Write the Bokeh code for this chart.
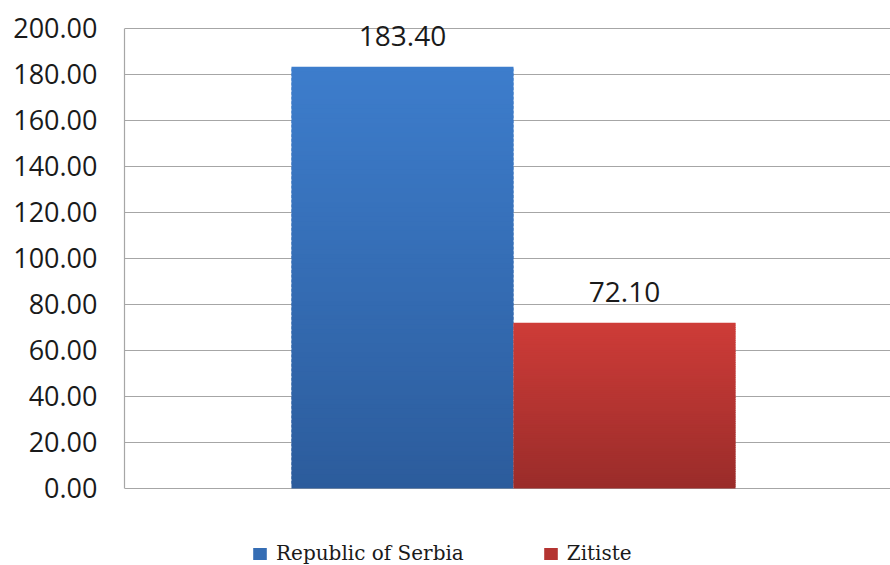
from bokeh.plotting import figure
from bokeh.models import Range1d, FixedTicker, NumeralTickFormatter, Legend, LegendItem, ColumnDataSource
from bokeh.core.properties import value
from bokeh.embed import file_html
from bokeh.resources import INLINE

# ---- data ----
categories = ["Republic of Serbia", "Zitiste"]
values = [183.40, 72.10]
y_ticks = [0, 20, 40, 60, 80, 100, 120, 140, 160, 180, 200]

# ---- style ----
top_colors = ["#3D7DCC", "#CE3C38"]
bottom_colors = ["#2C5C9C", "#9A2C2A"]
grid_color = "#A6A6A6"
text_color = "#1A1A1A"
N_STEPS = 90


def hex_to_rgb(h):
    h = h.lstrip("#")
    return tuple(int(h[i:i + 2], 16) for i in (0, 2, 4))


def mix(c1, c2, t):
    a, b = hex_to_rgb(c1), hex_to_rgb(c2)
    return "#%02x%02x%02x" % tuple(int(round(a[j] + (b[j] - a[j]) * t)) for j in range(3))


xs = list(range(len(categories)))

p = figure(
    width=890, height=565,
    x_range=Range1d(-1.252, 2.198), y_range=Range1d(-33.48, 212.17),
    output_backend="svg", toolbar_location=None,
    min_border_left=124, min_border_top=0, min_border_bottom=0, min_border_right=0,
)
p.outline_line_color = None
p.background_fill_color = "white"
p.border_fill_color = "white"

# gradient bars built as stacked slices of each bar's own value
renderers = []
for i, v in enumerate(values):
    seg = {"x": [], "bottom": [], "top": [], "color": []}
    for k in range(N_STEPS):
        seg["x"].append(xs[i])
        seg["bottom"].append(v * k / N_STEPS)
        seg["top"].append(min(v, v * (k + 1.6) / N_STEPS))
        seg["color"].append(mix(bottom_colors[i], top_colors[i], (k + 0.5) / N_STEPS))
    r = p.vbar(x="x", bottom="bottom", top="top", width=1.0, source=ColumnDataSource(seg),
               fill_color="color", line_color=None)
    renderers.append(r)

p.text(x=xs, y=values, text=[f"{v:.2f}" for v in values],
       text_align="center", text_baseline="alphabetic", y_offset=-31,
       text_font=value("Open Sans"), text_font_size="28px", text_color=text_color)

p.xaxis.visible = False
p.xgrid.visible = False
p.ygrid.ticker = FixedTicker(ticks=y_ticks)
p.ygrid.grid_line_color = grid_color
p.ygrid.grid_line_width = 1.2

ya = p.yaxis[0]
ya.ticker = FixedTicker(ticks=y_ticks)
ya.bounds = (y_ticks[0], y_ticks[-1])
ya.formatter = NumeralTickFormatter(format="0.00")
ya.axis_line_color = grid_color
ya.axis_line_width = 1.2
ya.major_tick_out = 0
ya.major_tick_in = 0
ya.minor_tick_out = 0
ya.minor_tick_in = 0
ya.major_label_standoff = 27
ya.major_label_text_font = "Open Sans"
ya.major_label_text_font_size = "27px"
ya.major_label_text_color = text_color

items = [LegendItem(label=categories[i], renderers=[renderers[i]], index=N_STEPS // 2)
         for i in range(len(categories))]
legend = Legend(items=items, location=(127, 0), orientation="horizontal",
                padding=0, spacing=78, margin=0,
                glyph_width=17, glyph_height=15, label_standoff=8, label_height=18,
                label_text_font="DejaVu Serif", label_text_font_size="20px",
                label_text_color=text_color,
                border_line_color=None, background_fill_alpha=0)
p.add_layout(legend)

open("out.html", "w").write(file_html(p, INLINE))
